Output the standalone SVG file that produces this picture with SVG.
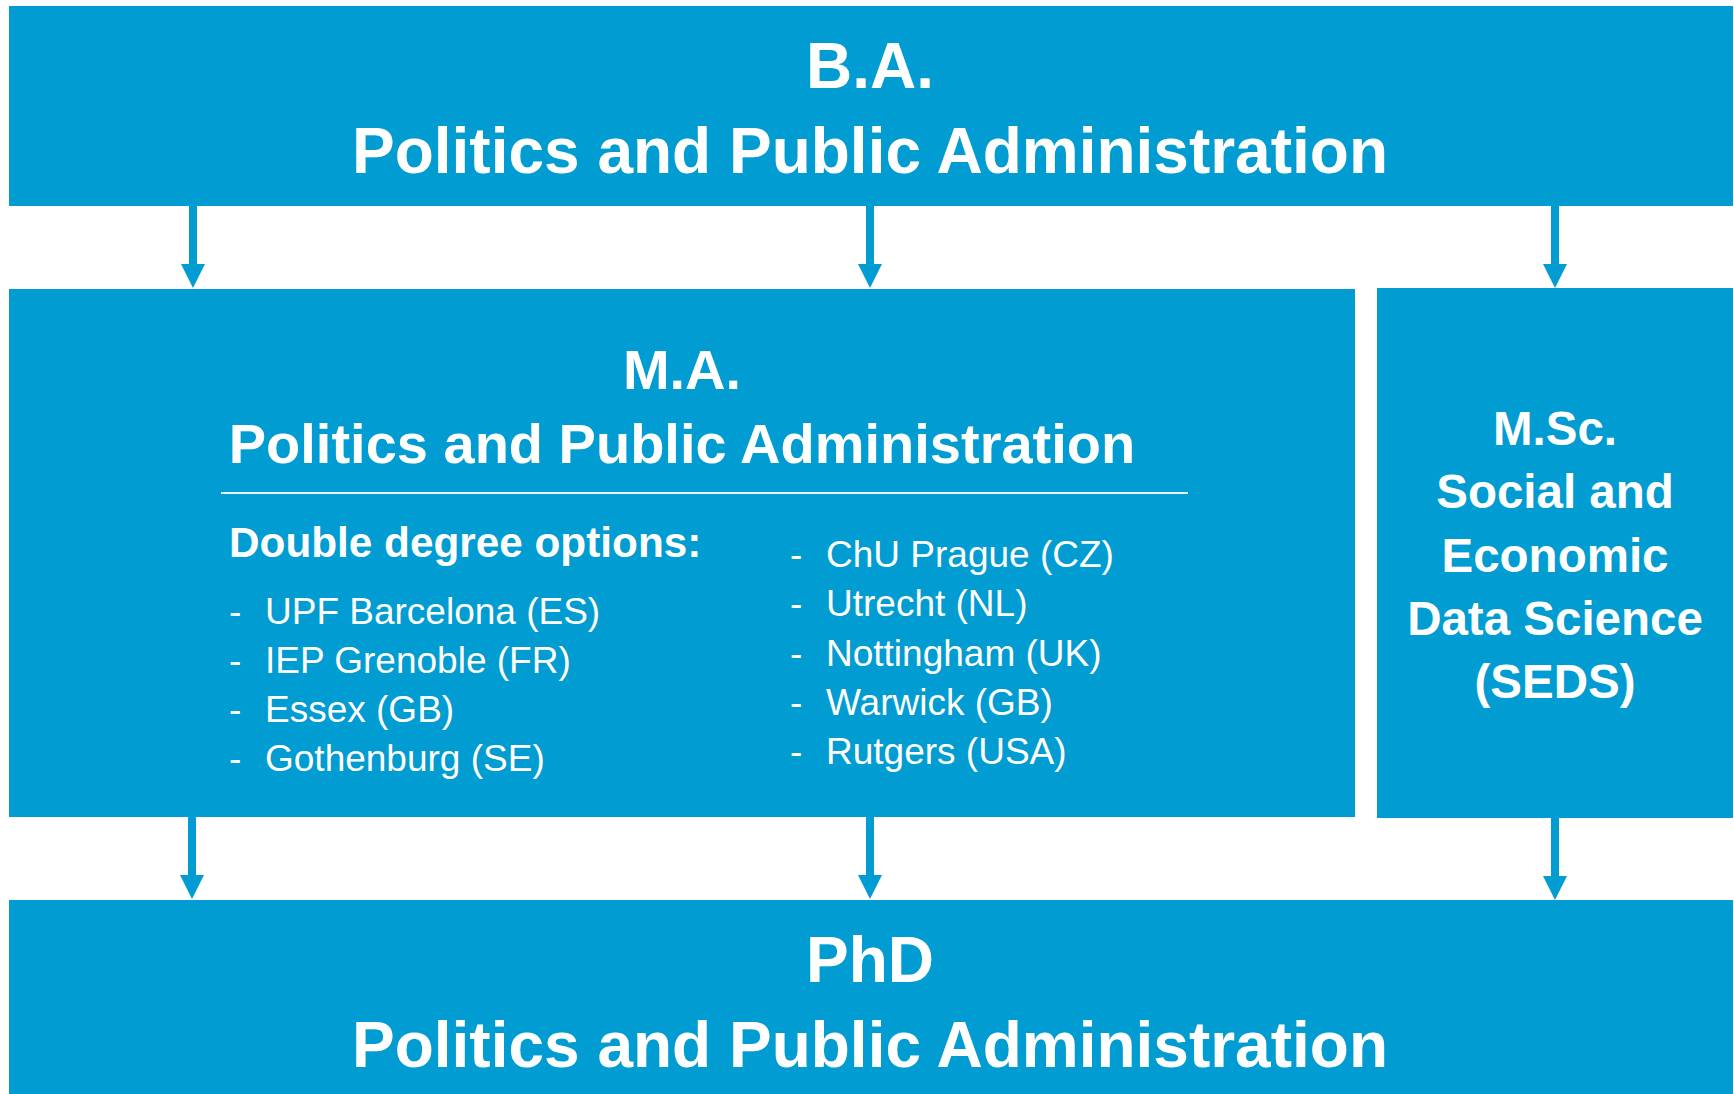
<svg xmlns="http://www.w3.org/2000/svg" width="1734" height="1094" viewBox="0 0 1734 1094">
  <style>
    .box { fill: #019cd1; }
    .t { font-family: "Liberation Sans", Arial, sans-serif; fill: #ffffff; }
    .b { font-weight: bold; }
    .mid { text-anchor: middle; }
    .conn { stroke: #019cd1; stroke-width: 8; fill: none; marker-end: url(#arr); }
  </style>
  <defs>
    <marker id="arr" markerUnits="userSpaceOnUse" markerWidth="24" markerHeight="24" viewBox="0 0 24 24" refX="0" refY="12" orient="auto">
      <path d="M0,0 L24,12 L0,24 Z" fill="#019cd1"/>
    </marker>
  </defs>
  <rect width="1734" height="1094" fill="#ffffff"/>

  <g id="ba">
    <rect class="box" x="9" y="6" width="1724" height="200"/>
    <text class="t b mid" x="870" y="88" font-size="64">B.A.</text>
    <text class="t b mid" x="870" y="173" font-size="64">Politics and Public Administration</text>
  </g>

  <g id="ma">
    <rect class="box" x="9" y="289" width="1346" height="528"/>
    <text class="t b mid" x="682" y="389" font-size="56">M.A.</text>
    <text class="t b mid" x="682" y="463" font-size="56">Politics and Public Administration</text>
    <line x1="221" y1="493" x2="1188" y2="493" stroke="#eaf6fb" stroke-width="2"/>
    <text class="t b" x="229" y="557" font-size="42.3">Double degree options:</text>
    <g class="t" font-size="37">
      <text x="229" y="624">-</text><text x="265" y="624">UPF Barcelona (ES)</text>
      <text x="229" y="673">-</text><text x="265" y="673">IEP Grenoble (FR)</text>
      <text x="229" y="722">-</text><text x="265" y="722">Essex (GB)</text>
      <text x="229" y="771">-</text><text x="265" y="771">Gothenburg (SE)</text>
      <text x="790" y="567">-</text><text x="826" y="567">ChU Prague (CZ)</text>
      <text x="790" y="616">-</text><text x="826" y="616">Utrecht (NL)</text>
      <text x="790" y="666">-</text><text x="826" y="666">Nottingham (UK)</text>
      <text x="790" y="715">-</text><text x="826" y="715">Warwick (GB)</text>
      <text x="790" y="764">-</text><text x="826" y="764">Rutgers (USA)</text>
    </g>
  </g>

  <g id="msc">
    <rect class="box" x="1377" y="288" width="356" height="530"/>
    <g class="t b mid" font-size="47.5">
      <text x="1555" y="445">M.Sc.</text>
      <text x="1555" y="508">Social and</text>
      <text x="1555" y="572">Economic</text>
      <text x="1555" y="635">Data Science</text>
      <text x="1555" y="698">(SEDS)</text>
    </g>
  </g>

  <g id="phd">
    <rect class="box" x="9" y="900" width="1724" height="194"/>
    <text class="t b mid" x="870" y="982" font-size="64">PhD</text>
    <text class="t b mid" x="870" y="1067" font-size="64">Politics and Public Administration</text>
  </g>

  <g id="connectors">
    <line class="conn" x1="193" y1="206" x2="193" y2="264"/>
    <line class="conn" x1="870" y1="206" x2="870" y2="264"/>
    <line class="conn" x1="1555" y1="206" x2="1555" y2="264"/>
    <line class="conn" x1="192" y1="817" x2="192" y2="875"/>
    <line class="conn" x1="870" y1="817" x2="870" y2="875"/>
    <line class="conn" x1="1555" y1="818" x2="1555" y2="876"/>
  </g>
</svg>
